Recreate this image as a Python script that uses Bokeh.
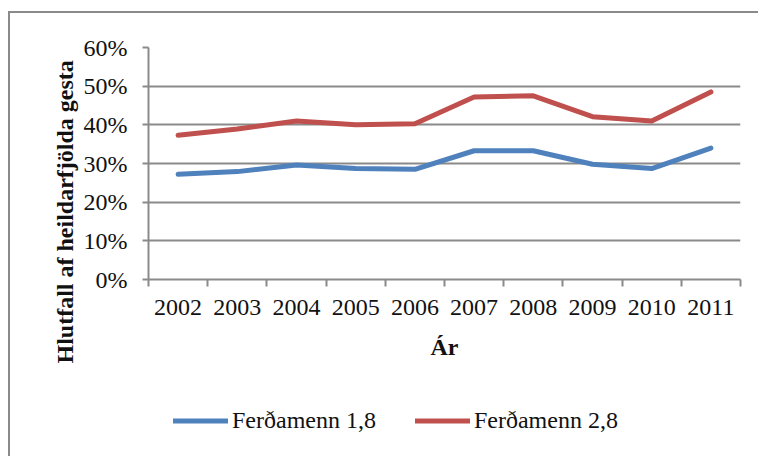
from bokeh.plotting import figure
from bokeh.layouts import column
from bokeh.models import (ColumnDataSource, Range1d, FixedTicker, PrintfTickFormatter,
                          NumeralTickFormatter, Legend, LegendItem, Title)
from bokeh.embed import file_html
from bokeh.resources import INLINE

# ---- data ----
years = [2002, 2003, 2004, 2005, 2006, 2007, 2008, 2009, 2010, 2011]
ferdamenn_18 = [27.2, 27.9, 29.6, 28.7, 28.5, 33.3, 33.3, 29.8, 28.7, 34.0]
ferdamenn_28 = [37.3, 38.9, 41.0, 40.0, 40.3, 47.2, 47.5, 42.1, 41.0, 48.5]
y_ticks = [0, 10, 20, 30, 40, 50, 60]
series_names = ["Ferðamenn 1,8", "Ferðamenn 2,8"]
x_title = "Ár"
y_title = "Hlutfall af heildarfjölda gesta"

BLUE = "#4F81BD"
RED = "#C0504D"
GRAY = "#8a8a8a"
FONT = "Liberation Serif"
TXT = "#111111"

source = ColumnDataSource(dict(year=years, s18=ferdamenn_18, s28=ferdamenn_28))
x_rng = Range1d(years[0] - 0.5, years[-1] + 0.5)

# ---- main chart ----
p = figure(width=748, height=360, output_backend="svg", toolbar_location=None,
           x_range=x_rng, y_range=Range1d(y_ticks[0], y_ticks[-1]),
           min_border_left=138, min_border_right=18,
           min_border_top=34, min_border_bottom=94)
p.outline_line_color = None
p.background_fill_color = "white"
p.border_fill_color = "white"

p.line("year", "s18", source=source, line_color=BLUE, line_width=5,
       line_join="round", line_cap="round")
p.line("year", "s28", source=source, line_color=RED, line_width=5,
       line_join="round", line_cap="round")

p.xgrid.grid_line_color = None
p.ygrid.grid_line_color = GRAY
p.ygrid.grid_line_width = 2
p.ygrid.ticker = FixedTicker(ticks=y_ticks)

ya = p.yaxis[0]
ya.ticker = FixedTicker(ticks=y_ticks)
ya.formatter = PrintfTickFormatter(format="%d%%")
ya.axis_line_color = GRAY
ya.axis_line_width = 2
ya.major_tick_line_color = GRAY
ya.major_tick_line_width = 2
ya.major_tick_out = 6
ya.major_tick_in = 0
ya.minor_tick_line_color = None
ya.major_label_text_font = FONT
ya.major_label_text_font_size = "24px"
ya.major_label_text_color = TXT
ya.major_label_standoff = 15

xa = p.xaxis[0]
xa.ticker = FixedTicker(ticks=years, minor_ticks=[y - 0.5 for y in years] + [years[-1] + 0.5])
xa.formatter = NumeralTickFormatter(format="0")
xa.axis_line_color = GRAY
xa.axis_line_width = 2
xa.major_tick_line_color = None
xa.major_tick_out = 0
xa.major_tick_in = 0
xa.minor_tick_line_color = GRAY
xa.minor_tick_line_width = 2
xa.minor_tick_out = 7
xa.minor_tick_in = 0
xa.major_label_text_font = FONT
xa.major_label_text_font_size = "24px"
xa.major_label_text_color = TXT
xa.major_label_standoff = 13
xa.axis_label = x_title
xa.axis_label_text_font = FONT
xa.axis_label_text_font_size = "24px"
xa.axis_label_text_font_style = "bold"
xa.axis_label_text_color = TXT
xa.axis_label_standoff = 16

# y axis title along the left side, starting below the frame bottom
ytitle = Title(text=y_title, align="left", offset=-84, standoff=5,
               text_font=FONT, text_font_size="24px", text_font_style="bold",
               text_color=TXT)
p.add_layout(ytitle, "left")

# ---- legend strip below the chart ----
lf = figure(width=748, height=83, output_backend="svg", toolbar_location=None,
            x_range=x_rng, y_range=Range1d(-200, -100),
            x_axis_location=None, y_axis_location=None,
            min_border_left=0, min_border_right=0, min_border_top=0, min_border_bottom=0)
lf.outline_line_color = None
lf.grid.visible = False
lf.background_fill_color = "white"
lf.border_fill_color = "white"
l1 = lf.line("year", "s18", source=source, line_color=BLUE, line_width=5, line_cap="round")
l2 = lf.line("year", "s28", source=source, line_color=RED, line_width=5, line_cap="round")

legend = Legend(items=[LegendItem(label=series_names[0], renderers=[l1]),
                       LegendItem(label=series_names[1], renderers=[l2])],
                location=(25, 22), orientation="horizontal",
                glyph_width=55, glyph_height=27, label_height=27,
                label_standoff=4, spacing=39,
                padding=0, margin=0, border_line_color=None,
                background_fill_alpha=0,
                label_text_font=FONT, label_text_font_size="24px",
                label_text_color=TXT)
lf.add_layout(legend)

layout = column(p, lf, spacing=0,
                styles={"margin-left": "8px", "margin-top": "11px",
                        "border-left": "2px solid #8a8a8a",
                        "border-top": "2px solid #8a8a8a"})

open("out.html", "w").write(file_html(layout, INLINE))
